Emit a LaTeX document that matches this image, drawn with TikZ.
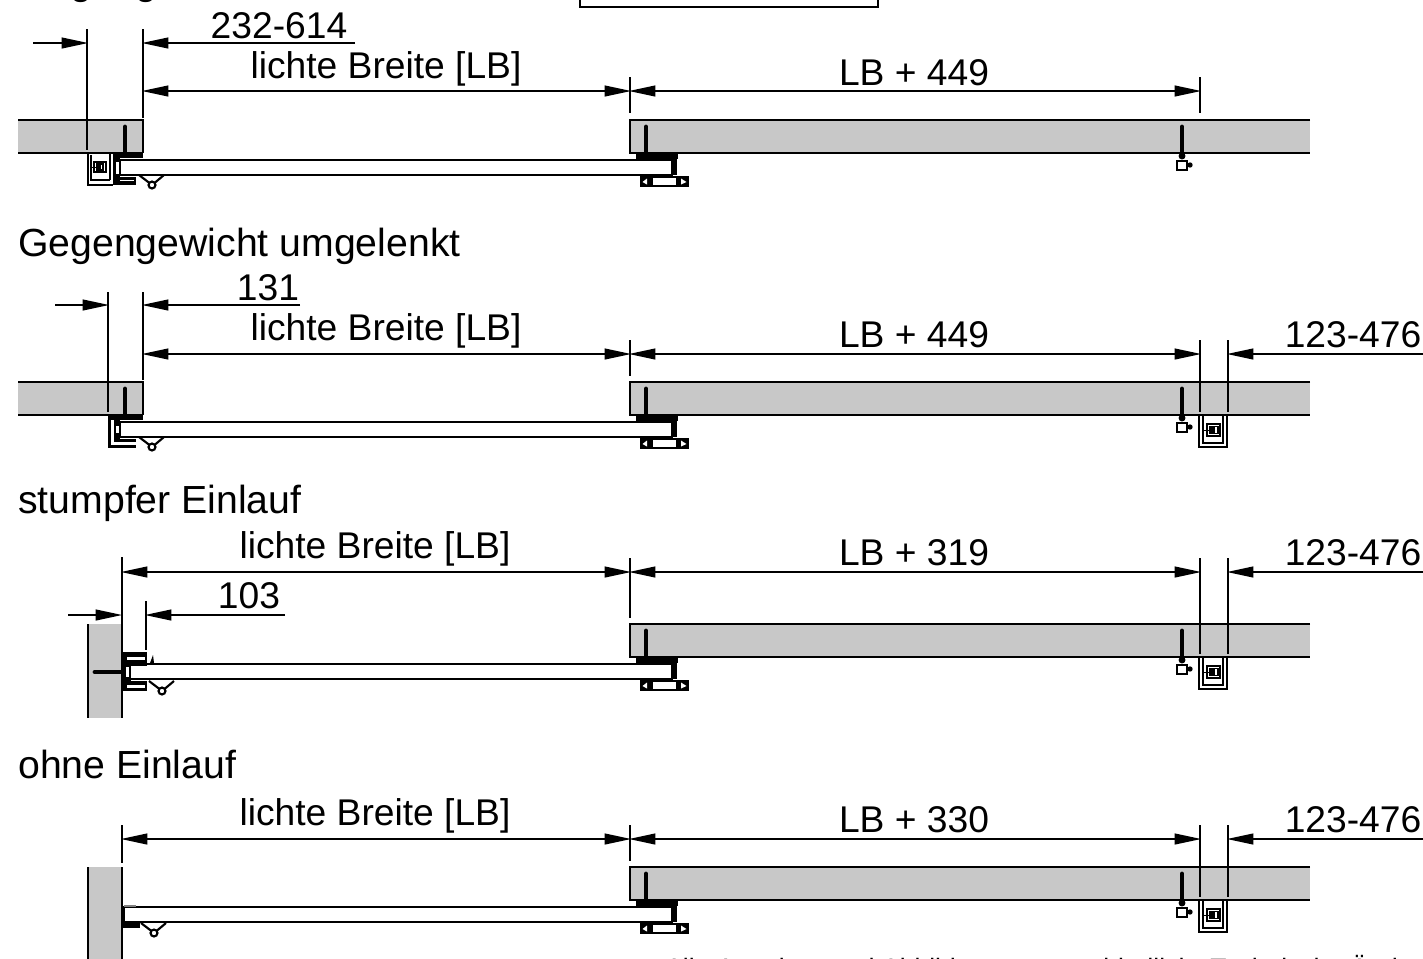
\documentclass[tikz,border=0pt]{standalone}
\usepackage{fontspec}
\setmainfont{Liberation Sans}
\usetikzlibrary{arrows.meta}
\definecolor{wallgrey}{HTML}{C8C8C8}
\tikzset{
  lab/.style={anchor=base,inner sep=0pt,font=\fontsize{27.9pt}{30pt}\selectfont},
  head/.style={anchor=base west,inner sep=0pt,font=\fontsize{29.4pt}{32pt}\selectfont},
  foot/.style={anchor=base west,inner sep=0pt,font=\fontsize{19.9pt}{22pt}\selectfont},
  line/.style={line width=2pt,black},
  ext/.style={line width=1.6pt,black},
  dim/.style={line width=1.6pt,black},
  both/.style={dim,shorten >=-1pt,shorten <=-1pt,{Triangle[length=20pt,width=8pt]}-{Triangle[length=20pt,width=8pt]}},
  end tip/.style={dim,shorten >=-1pt,-{Triangle[length=20pt,width=8pt]}},
  wall/.style={fill=wallgrey,draw=none},
  solid part/.style={fill=black,draw=none}
}
\newcommand{\slabR}[1]{%
  \fill[wall] (630,#1) rectangle (1310,#1+33);
  \draw[line] (1310,#1) -- (630,#1) -- (630,#1+33) -- (1310,#1+33);
}
\newcommand{\bolt}[2]{%
  \draw[line width=3.6pt,line cap=round] (#1,#2+7) -- (#1,#2+20);
  \draw[line width=2.6pt] (#1,#2+20) -- (#1,#2+34);
}
\newcommand{\doorRight}[1]{%
  \bolt{646}{#1}
  \fill[solid part] (636,#1+34) rectangle (678,#1+38.5);
  \fill[solid part] (671.5,#1+36) rectangle (676.5,#1+55);
  \draw[line width=2pt] (641,#1+57) rectangle (688,#1+66);
  \fill[solid part] (641,#1+57) rectangle (653,#1+66);
  \fill[solid part] (676,#1+57) rectangle (688,#1+66);
  \fill[white] (642.5,#1+62) -- (647,#1+58.5) -- (647,#1+64.5) -- cycle;
  \fill[white] (686.5,#1+62) -- (681,#1+58.5) -- (681,#1+64.5) -- cycle;
}
\newcommand{\roller}[2]{%
  \draw[line width=1.6pt] (#1-13,#2-10) -- (#1-2.5,#2-2);
  \draw[line width=1.6pt] (#1+12,#2-10) -- (#1+2.5,#2-2);
  \draw[line width=1.6pt,fill=white] (#1,#2) circle (2.6pt);
}
\newcommand{\latch}[1]{%
  \bolt{1182}{#1}
  \fill (1182,#1+36) circle (2.6pt);
  \draw[line width=1.3pt,fill=white] (1177,#1+41) rectangle (1187,#1+50);
  \fill (1190,#1+45) circle (2pt);
}
\newcommand{\cwbox}[2]{%
  \begin{scope}[shift={(#1,#2)}]
    \draw[line width=1.4pt] (0,0) -- (0,31) -- (28,31) -- (28,0);
    \draw[line width=2pt] (-0.5,31) -- (28.5,31);
    \draw[line width=1pt] (4,0) -- (4,27) -- (24,27) -- (24,0);
    \draw[line width=1.2pt] (8,8) rectangle (21,20);
    \draw[line width=1pt] (11,10.5) rectangle (19,17.5);
    \fill (11,11) rectangle (16,17);
    \draw[line width=0.7pt] (4,14) -- (11,14);
  \end{scope}
}
\newcommand{\rowRight}[1]{%
  \slabR{#1}
  \doorRight{#1}
  \latch{#1}
}
\begin{document}
\begin{tikzpicture}[x=0.75pt,y=-0.75pt]
\useasboundingbox (0,0) rectangle (1423,958);
\clip (0,0) rectangle (1423,958);

% top box and cut off heading
\draw[line] (580,-5) -- (580,7) -- (878,7) -- (878,-5);
\node[head] (h0) at (18,-6) {Gegengewicht};

% row 1
\fill[wall] (18,120) rectangle (143,153);
\draw[line] (18,120) -- (143,120) -- (143,153);
\draw[line] (18,153) -- (143,153);
\rowRight{120}
\bolt{125}{120}
\draw[line,fill=white] (120,160) rectangle (672,175);
\fill[solid part] (113,154) rectangle (143,158);
\fill[solid part] (113,155) rectangle (120,184);
\fill[white] (116,162) rectangle (118.5,174);
\fill[solid part] (113,177) rectangle (136,185);
\fill[white] (120,179.5) rectangle (134,180.5);
\draw[line width=1.6pt] (88,153) -- (88,185) -- (113,185);
\draw[line width=1.6pt] (110,153) -- (110,180);
\draw[line width=1pt] (91,155) -- (91,180) -- (110,180);
\draw[line width=1.2pt] (94,162) rectangle (106,172);
\draw[line width=1pt] (97,164) rectangle (103,170);
\fill (96,164) rectangle (101,170);
\draw[line width=0.7pt] (91,167) -- (96,167);
\roller{152}{185}
\coordinate (a1) at (87,29); \coordinate (a1b) at (87,150);
\coordinate (b1) at (143,29); \coordinate (b1b) at (143,118);
\coordinate (c1) at (630,77); \coordinate (c1b) at (630,113);
\coordinate (d1) at (1200,77); \coordinate (d1b) at (1200,113);
\draw[ext] (a1) -- (a1b);
\draw[ext] (b1) -- (b1b);
\draw[ext] (c1) -- (c1b);
\draw[ext] (d1) -- (d1b);
\coordinate (s1) at (33,43); \coordinate (t1) at (355,43);
\draw[end tip] (s1) -- (a1 |- s1);
\draw[end tip] (t1) -- (b1 |- t1);
\draw[both] (143,91) -- (630,91);
\draw[both] (630,91) -- (1200,91);
\node[lab] (t11) at (279,38) {232-614};
\node[lab] (t12) at (386,78) {lichte Breite [LB]};
\node[lab] (t13) at (914,85) {LB + 449};

% row 2
\node[head] (h2) at (18,256) {Gegengewicht umgelenkt};
\fill[wall] (18,382) rectangle (143,415);
\draw[line] (18,382) -- (143,382) -- (143,415);
\draw[line] (18,415) -- (143,415);
\rowRight{382}
\bolt{125}{382}
\draw[line,fill=white] (120,422) rectangle (672,437);
\fill[solid part] (108,415) rectangle (143,419.5);
\fill[solid part] (108,415) rectangle (111,447.5);
\fill[solid part] (108,444.5) rectangle (136,447.5);
\fill[solid part] (114,419) rectangle (120,440);
\fill[white] (115.5,426) rectangle (118.5,433);
\fill[solid part] (114,439) rectangle (136,442);
\fill[white] (111,442) rectangle (135,444.5);
\roller{152}{447}
\draw[ext] (108,292) -- (108,412);
\draw[ext] (143,292) -- (143,380);
\draw[ext] (630,340) -- (630,376);
\draw[ext] (1200,340) -- (1200,412);
\draw[ext] (1228,340) -- (1228,412);
\draw[end tip] (55,305) -- (108,305);
\draw[end tip] (300,305) -- (143,305);
\draw[both] (143,354) -- (630,354);
\draw[both] (630,354) -- (1200,354);
\draw[end tip] (1423,354) -- (1228,354);
\cwbox{1199}{416}
\node[lab] (t21) at (268,300) {131};
\node[lab] (t22) at (386,340) {lichte Breite [LB]};
\node[lab] (t23) at (914,347) {LB + 449};
\node[lab] (t24) at (1353,347) {123-476};

% row 3
\node[head] (h3) at (18,513) {stumpfer Einlauf};
\fill[wall] (88,624) rectangle (122,718);
\draw[line] (88,624) -- (88,718);
\draw[line] (122,557) -- (122,718);
\rowRight{624}
\draw[line,fill=white] (128,664) rectangle (672,679);
\fill[solid part] (123,652) rectangle (147,666);
\fill[white] (127,656.5) rectangle (145,659.5);
\fill[solid part] (123,681) rectangle (147,691);
\fill[white] (127,685) rectangle (145,688);
\fill[solid part] (123,664) rectangle (131,681);
\fill[white] (126,667) rectangle (129,677);
\fill[solid part] (150,663) -- (153,655) -- (154,663) -- cycle;
\draw[line width=3.6pt,line cap=round] (95,672) -- (108,672);
\draw[line width=2.6pt] (108,672) -- (123,672);
\roller{162}{691}
\draw[ext] (146,601) -- (146,650);
\draw[ext] (630,558) -- (630,618);
\draw[ext] (1200,558) -- (1200,654);
\draw[ext] (1228,558) -- (1228,654);
\draw[end tip] (68,615) -- (121,615);
\draw[end tip] (285,615) -- (146,615);
\draw[both] (122,572) -- (630,572);
\draw[both] (630,572) -- (1200,572);
\draw[end tip] (1423,572) -- (1228,572);
\cwbox{1199}{658}
\node[lab] (t31) at (375,558) {lichte Breite [LB]};
\node[lab] (t32) at (914,565) {LB + 319};
\node[lab] (t33) at (249,608) {103};
\node[lab] (t34) at (1353,565) {123-476};

% row 4
\node[head] (h4) at (18,778) {ohne Einlauf};
\fill[wall] (88,867) rectangle (122,960);
\draw[line] (88,867) -- (88,960);
\draw[line] (122,867) -- (122,960);
\draw[ext] (122,825) -- (122,863);
\rowRight{867}
\draw[line,fill=white] (124,907) rectangle (672,922);
\fill[solid part] (122,922) rectangle (140,928);
\draw[line width=1pt,gray] (124,906) -- (136,906);
\roller{154}{933}
\draw[ext] (630,825) -- (630,861);
\draw[ext] (1200,825) -- (1200,897);
\draw[ext] (1228,825) -- (1228,897);
\draw[both] (122,839) -- (630,839);
\draw[both] (630,839) -- (1200,839);
\draw[end tip] (1423,839) -- (1228,839);
\cwbox{1199}{901}
\node[lab] (t41) at (375,825) {lichte Breite [LB]};
\node[lab] (t42) at (914,832) {LB + 330};
\node[lab] (t43) at (1353,832) {123-476};

% cut off footnote
\node[foot] (f) at (665,977) {Alle Angaben und Abbildungen unverbindlich. Technische Änderungen};
\end{tikzpicture}
\end{document}
